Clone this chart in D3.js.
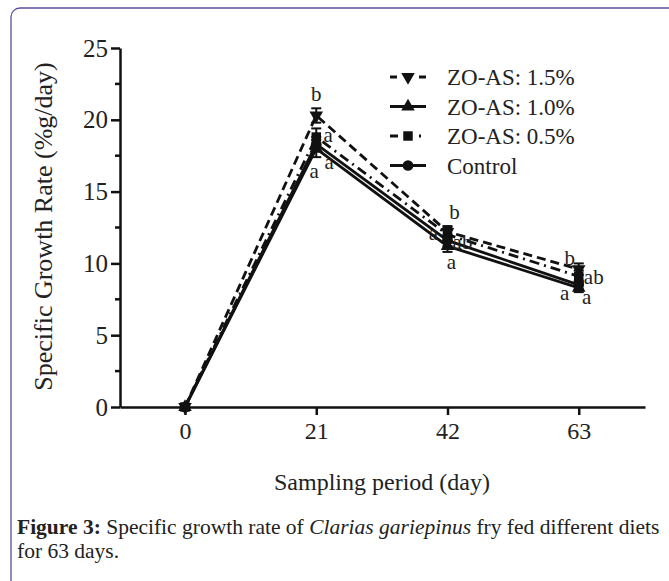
<!DOCTYPE html>
<html>
<head>
<meta charset="utf-8">
<script src="https://cdn.jsdelivr.net/npm/d3@7"></script>
<style>
  body { margin: 0; background: #fff; }
  #chart { position: absolute; left: 0; top: 0; }
  #caption {
    position: absolute; left: 17px; top: 515px; width: 652px;
    font-family: "Liberation Serif", "Times New Roman", serif;
    font-size: 21.5px; line-height: 24px; color: #222;
  }
</style>
</head>
<body>
<div id="chart"></div>
<div id="caption"><b>Figure 3:</b> Specific growth rate of <i>Clarias gariepinus</i> fry fed different diets for 63 days.</div>
<script>
// sampling days
const days = [0, 21, 42, 63];

// series values (%g/day)
const zo15 = [0, 20.3, 12.2, 9.6];
const zo10 = [0, 18.0, 11.2, 8.3];
const zo05 = [0, 18.8, 12.0, 9.1];
const control = [0, 18.3, 11.6, 8.5];

// error bars (sd)
const zo15Err = [0.15, 0.5, 0.4, 0.4];
const zo10Err = [0.15, 0.6, 0.4, 0.3];
const zo05Err = [0.15, 0.6, 0.5, 0.4];
const controlErr = [0.15, 0.5, 0.4, 0.3];

// significance letters
const zo15Letters = ["", "b", "b", "b"];
const zo10Letters = ["", "a", "a", "a"];
const zo05Letters = ["", "a", "ab", "ab"];
const controlLetters = ["", "a", "a", "a"];

const yTicks = [0, 5, 10, 15, 20, 25];
const names = ["ZO-AS: 1.5%", "ZO-AS: 1.0%", "ZO-AS: 0.5%", "Control"];

const width = 669, height = 581;
const font = "'Liberation Serif', 'Times New Roman', serif";

const svg = d3.select("#chart").append("svg")
    .attr("width", width)
    .attr("height", height);

// frame
svg.append("rect")
    .attr("x", 11).attr("y", 8)
    .attr("width", 700).attr("height", 620)
    .attr("rx", 9)
    .attr("fill", "none")
    .attr("stroke", "#5a4f9c")
    .attr("stroke-width", 1.3);

const x = d3.scaleLinear().domain([-10.4, 73.6]).range([120, 645]);
const y = d3.scaleLinear().domain([0, 25]).range([407, 48]);

// series config
const series = [
    { name: names[0], values: zo15, err: zo15Err, letters: zo15Letters, dash: "9,5", legendDash: "7,22,7", symbol: "down" },
    { name: names[1], values: zo10, err: zo10Err, letters: zo10Letters, dash: null, legendDash: null, symbol: "up" },
    { name: names[2], values: zo05, err: zo05Err, letters: zo05Letters, dash: "10,5,2,5", legendDash: "8,21,2,10", symbol: "square" },
    { name: names[3], values: control, err: controlErr, letters: controlLetters, dash: null, legendDash: null, symbol: "circle" }
];

// letter offsets (per series, per day)
const letterPos = [
    [null, [0, -22], [7, -20], [-9, -11]],
    [null, [13, 13], [4, 15], [8, 9]],
    [null, [12, -2], [15, 7], [15, 0]],
    [null, [-2, 26], [-14, -8], [-14, 8]]
];

function symbolPath(type) {
    if (type === "down" || type === "up") return d3.symbol(d3.symbolTriangle, 80)();
    if (type === "square") return d3.symbol(d3.symbolSquare, 90)();
    return d3.symbol(d3.symbolCircle, 90)();
}

// Axes
const gx = svg.append("g")
    .attr("transform", `translate(0, ${y(0)})`)
    .call(d3.axisBottom(x).tickValues(days).tickSize(8).tickSizeOuter(0).tickFormat(d3.format("d")));
gx.select(".domain").attr("stroke", "#111").attr("stroke-width", 2.5);
gx.selectAll(".tick line").attr("stroke", "#111").attr("stroke-width", 2.5);
gx.selectAll(".tick text")
    .attr("font-family", font).attr("font-size", 24).attr("fill", "#222")
    .attr("y", 15);

const gy = svg.append("g")
    .attr("transform", `translate(${x(-10.4)}, 0)`)
    .call(d3.axisLeft(y).tickValues(yTicks).tickSize(9).tickSizeOuter(0));
gy.select(".domain").attr("stroke", "#111").attr("stroke-width", 2.5);
gy.selectAll(".tick line").attr("stroke", "#111").attr("stroke-width", 2.5);
gy.selectAll(".tick text")
    .attr("font-family", font).attr("font-size", 25).attr("fill", "#222")
    .attr("x", -12);

// minor ticks
gy.selectAll(".minor")
    .data(d3.range(2.5, 25, 5))
    .enter().append("line")
    .attr("x1", -5).attr("x2", 0)
    .attr("y1", d => y(d)).attr("y2", d => y(d))
    .attr("stroke", "#111").attr("stroke-width", 2.5);

// axis titles
svg.append("text")
    .attr("x", 382)
    .attr("y", 490)
    .attr("text-anchor", "middle")
    .attr("font-family", font).attr("font-size", 24).attr("fill", "#222")
    .text("Sampling period (day)");

svg.append("text")
    .attr("transform", `translate(52, ${(y(0) + y(25)) / 2 - 1}) rotate(-90)`)
    .attr("text-anchor", "middle")
    .attr("font-family", font).attr("font-size", 26).attr("fill", "#222")
    .text("Specific Growth Rate (%g/day)");

// lines
const line = d3.line()
    .x((d, i) => x(days[i]))
    .y(d => y(d));

series.forEach(s => {
    svg.append("path")
        .datum(s.values)
        .attr("fill", "none")
        .attr("stroke", "#111")
        .attr("stroke-width", 2.8)
        .attr("stroke-dasharray", s.dash)
        .attr("d", line);
});

series.forEach((s, si) => {
    const g = svg.append("g");
    s.values.forEach((v, i) => {
        const cx = x(days[i]), cy = y(v);
        // error bar
        g.append("line")
            .attr("x1", cx).attr("x2", cx)
            .attr("y1", y(v - s.err[i])).attr("y2", y(v + s.err[i]))
            .attr("stroke", "#111").attr("stroke-width", 2);
        [v - s.err[i], v + s.err[i]].forEach(e => {
            g.append("line")
                .attr("x1", cx - 5).attr("x2", cx + 5)
                .attr("y1", y(e)).attr("y2", y(e))
                .attr("stroke", "#111").attr("stroke-width", 2);
        });
        g.append("path")
            .attr("d", symbolPath(s.symbol))
            .attr("transform", `translate(${cx}, ${cy})` + (s.symbol === "down" ? " rotate(180)" : ""))
            .attr("fill", "#111");
        // letters
        if (s.letters[i]) {
            const off = letterPos[si][i];
            g.append("text")
                .attr("x", cx + off[0])
                .attr("y", cy + off[1])
                .attr("dy", "0.35em")
                .attr("text-anchor", "middle")
                .attr("font-family", font).attr("font-size", 21).attr("fill", "#222")
                .text(s.letters[i]);
        }
    });
});

// legend
const legend = svg.append("g");
series.forEach((s, i) => {
    const ly = 77 + i * 29.5;
    legend.append("line")
        .attr("x1", 390).attr("x2", 426)
        .attr("y1", ly).attr("y2", ly)
        .attr("stroke", "#111").attr("stroke-width", 2.8)
        .attr("stroke-dasharray", s.legendDash);
    legend.append("path")
        .attr("d", symbolPath(s.symbol))
        .attr("transform", `translate(408, ${ly})` + (s.symbol === "down" ? " rotate(180)" : ""))
        .attr("fill", "#111");
    legend.append("text")
        .attr("x", 447).attr("y", ly)
        .attr("dy", "0.35em")
        .attr("font-family", font).attr("font-size", 23).attr("fill", "#222")
        .text(s.name);
});
</script>
</body>
</html>
